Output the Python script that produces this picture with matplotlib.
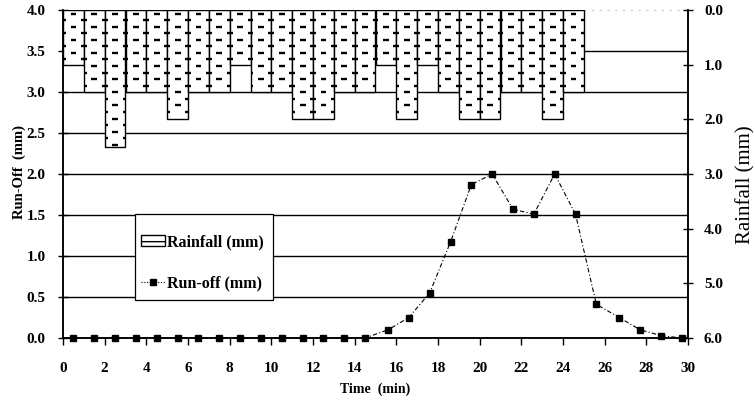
import matplotlib
matplotlib.use('Agg')
import matplotlib.pyplot as plt
import numpy as np
from matplotlib.patches import Patch, Rectangle
from matplotlib.lines import Line2D
from matplotlib.collections import LineCollection

# ---------------- data ----------------
rain_start = list(range(25))  # minute at which each 1-min rainfall interval starts
rainfall = [1.0, 1.5, 2.5, 1.5, 1.5, 2.0, 1.5, 1.5, 1.0, 1.5, 1.5, 2.0, 2.0,
            1.5, 1.5, 1.0, 2.0, 1.0, 1.5, 2.0, 2.0, 1.5, 1.5, 2.0, 1.5]

runoff_time = [0.5, 1.5, 2.5, 3.5, 4.5, 5.5, 6.5, 7.5, 8.5, 9.5, 10.5, 11.5,
               12.5, 13.5, 14.5, 15.6, 16.6, 17.6, 18.6, 19.6, 20.6, 21.6,
               22.6, 23.6, 24.6, 25.6, 26.7, 27.7, 28.7, 29.7]
runoff = [0, 0, 0, 0, 0, 0, 0, 0, 0, 0, 0, 0, 0, 0, 0,
          0.10, 0.25, 0.55, 1.17, 1.87, 2.00, 1.57, 1.51, 2.00, 1.51,
          0.41, 0.25, 0.10, 0.03, 0.00]

x_ticks = list(range(0, 31, 2))
left_ticks = [0.0, 0.5, 1.0, 1.5, 2.0, 2.5, 3.0, 3.5, 4.0]
right_ticks = [0.0, 1.0, 2.0, 3.0, 4.0, 5.0, 6.0]

# ---------------- figure ----------------
plt.rcParams['font.family'] = ['Liberation Serif', 'DejaVu Serif']
W, H = 755, 403
fig = plt.figure(figsize=(W / 100, H / 100), dpi=100)
ax = fig.add_axes([63 / W, 1 - 338 / H, 625 / W, 328 / H])
ax2 = ax.twinx()

ax.set_xlim(0, 30)
ax.set_ylim(0, 4)
ax2.set_ylim(6, 0)

# horizontal grid lines (left axis)
for g in left_ticks[1:-1]:
    ax.axhline(g, color='black', lw=1.0, zorder=0)

# rainfall bars hanging from the top (right axis, inverted)
bars = ax2.bar(rain_start, rainfall, width=1, align='edge', bottom=0,
               color='white', edgecolor='black', linewidth=1.0, zorder=2)

# dashed "brick" fill pattern inside each bar
for rect, x0, d in zip(bars.patches, rain_start, rainfall):
    segs = []
    rows = np.arange(0.065, d - 0.03, 0.12)
    for k, r in enumerate(rows):
        if k % 2 == 0:
            segs.append([(x0 + 0.36, r), (x0 + 0.64, r)])
        else:
            segs.append([(x0 - 0.14, r), (x0 + 0.14, r)])
            segs.append([(x0 + 0.86, r), (x0 + 1.14, r)])
    lc = LineCollection(segs, colors='black', linewidths=1.7, zorder=3)
    ax2.add_collection(lc)
    lc.set_clip_path(rect)

# run-off line
ln, = ax.plot(runoff_time, runoff, color='black', lw=0.8,
              ls=(0, (4, 2, 1, 2)), marker='s', ms=5, zorder=4,
              clip_on=False)

# ---------------- axes styling ----------------
ax.set_xticks(x_ticks)
ax.set_yticks(left_ticks)
ax2.set_yticks(right_ticks)
ax.set_xticklabels([str(t) for t in x_ticks], fontweight='bold', fontsize=11)
ax.set_yticklabels([f'{t:.1f}' for t in left_ticks], fontweight='bold', fontsize=11)
ax2.set_yticklabels([f'{t:.1f}' for t in right_ticks], fontweight='bold', fontsize=11)

ax.tick_params(axis='x', direction='out', length=5, width=1, pad=12)
ax.tick_params(axis='y', direction='inout', length=7, width=1, pad=9)
ax2.tick_params(axis='y', direction='inout', length=7, width=1, pad=8)

for s in ['left', 'bottom', 'right']:
    ax.spines[s].set_linewidth(1.1)
    ax2.spines[s].set_linewidth(1.1)
ax.spines['top'].set_color('#c8c8c8')
ax.spines['top'].set_linestyle((0, (1, 6)))
ax2.spines['top'].set_visible(False)

# axis labels
fig.text(19 / W, 1 - 172 / H, 'Run-Off  (mm)', rotation=90, ha='center',
         va='center', fontsize=10.5, fontweight='bold')
fig.text(746 / W, 1 - 185 / H, 'Rainfall (mm)', rotation=90, ha='center',
         va='center', fontsize=15)
fig.text(375 / W, 1 - 389 / H, 'Time  (min)', ha='center', va='center',
         fontsize=10, fontweight='bold')

# legend with manual frame
frame = Rectangle(((135 - 63) / 625, (338 - 300) / 328), (273 - 135) / 625,
                  (300 - 214) / 328, transform=ax2.transAxes,
                  facecolor='white', edgecolor='black', lw=0.9, zorder=5)
ax2.add_patch(frame)
h_rain = Patch(facecolor='white', edgecolor='black', hatch='-', lw=1.0)
h_run = Line2D([], [], color='black', lw=0.8, ls=(0, (1, 1.5)), marker='s', ms=5)
leg = ax2.legend([h_rain, h_run], ['Rainfall (mm)', 'Run-off (mm)'],
                 loc='upper left', bbox_to_anchor=((141 - 63) / 625, (338 - 234) / 328),
                 frameon=False, borderpad=0, borderaxespad=0,
                 labelspacing=1.6, handlelength=1.5, handletextpad=0.15,
                 prop={'weight': 'bold', 'size': 11.5})
leg.set_zorder(6)

fig.savefig('out.png', dpi=100)
